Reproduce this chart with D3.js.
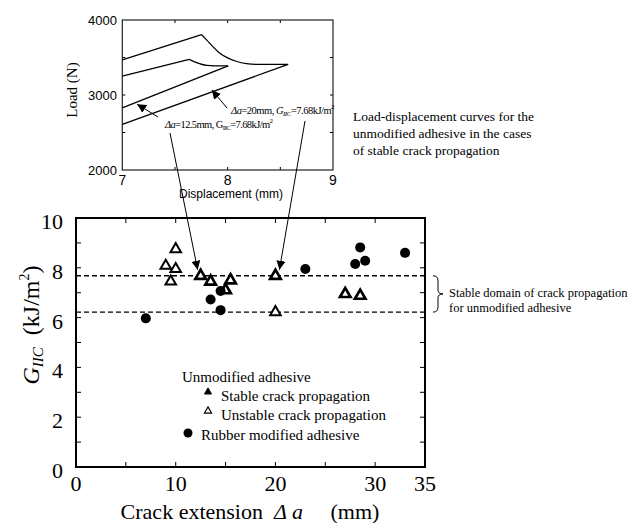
<!DOCTYPE html>
<html><head><meta charset="utf-8">
<script src="https://cdn.jsdelivr.net/npm/d3@7"></script>
<style>body{margin:0;background:#fff}svg{display:block}</style>
</head><body>
<svg id="c" width="629" height="523"></svg>
<script>
// ---- Main chart data ----
const stableX = [12.5, 13.5, 15.5, 15.0, 20.0, 27.0, 28.5];
const stableY = [7.68, 7.45, 7.5, 7.1, 7.68, 6.95, 6.88];
const unstableX = [10.0, 9.0, 10.0, 9.5, 20.0];
const unstableY = [8.75, 8.08, 7.95, 7.45, 6.22];
const rubberX = [7.0, 13.5, 14.5, 14.5, 23.0, 28.5, 28.0, 29.0, 33.0];
const rubberY = [5.97, 6.73, 7.07, 6.3, 7.95, 8.82, 8.15, 8.28, 8.6];
const domainBounds = [6.22, 7.68];
const xTicks = [0, 10, 20, 30, 35];
const yTicks = [0, 2, 4, 6, 8, 10];
// ---- Inset (load-displacement) data ----
const curveA_d = [7.0, 7.753, 7.80, 7.86, 7.926, 8.00, 8.08, 8.179, 8.274, 8.574, 7.0];
const curveA_L = [3467, 3804, 3735, 3645, 3556, 3495, 3450, 3418, 3409, 3409, 2609];
const curveB_d = [7.0, 7.635, 7.705, 7.80, 8.005, 7.0];
const curveB_L = [3253, 3476, 3431, 3396, 3387, 2827];
const insetXTicks = [7, 8, 9];
const insetYTicks = [2000, 3000, 4000];

const svg = d3.select("#c");
const serif = "'Liberation Serif','Times New Roman',serif";
const sans = "'Liberation Sans',Arial,sans-serif";

const defs = svg.append("defs");
defs.append("marker").attr("id","ah").attr("viewBox","0 0 10 10").attr("refX",10).attr("refY",5)
  .attr("markerWidth",9).attr("markerHeight",9).attr("markerUnits","userSpaceOnUse").attr("orient","auto")
  .append("path").attr("d","M0,0 L10,5 L0,10 Z").attr("fill","#000");

// ================= MAIN CHART =================
const x = d3.scaleLinear([0, 35], [76, 425]);
const y = d3.scaleLinear([0, 10], [467, 218]);
const g = svg.append("g");

const tk = 5;
d3.range(1, 10).forEach(v => {
  g.append("line").attr("x1", x(0)).attr("x2", x(0) + tk).attr("y1", y(v)).attr("y2", y(v)).attr("stroke","#000").attr("stroke-width",1);
  g.append("line").attr("x1", x(35)).attr("x2", x(35) - tk).attr("y1", y(v)).attr("y2", y(v)).attr("stroke","#000").attr("stroke-width",1);
});
d3.range(5, 35, 5).forEach(v => {
  g.append("line").attr("x1", x(v)).attr("x2", x(v)).attr("y1", y(0)).attr("y2", y(0) - tk).attr("stroke","#000").attr("stroke-width",1);
  g.append("line").attr("x1", x(v)).attr("x2", x(v)).attr("y1", y(10)).attr("y2", y(10) + tk).attr("stroke","#000").attr("stroke-width",1);
});
g.append("rect").attr("x", x(0)).attr("y", y(10)).attr("width", x(35) - x(0)).attr("height", y(0) - y(10))
  .attr("fill","none").attr("stroke","#000").attr("stroke-width",2);

xTicks.forEach(v => {
  g.append("text").attr("x", x(v)).attr("y", 491).attr("text-anchor","middle")
    .attr("font-family", serif).attr("font-size", 22).text(v);
});
yTicks.forEach(v => {
  g.append("text").attr("x", 63).attr("y", y(v) + 11).attr("text-anchor","end")
    .attr("font-family", serif).attr("font-size", 22).text(v);
});

const xt = g.append("text").attr("x", 250).attr("y", 519).attr("text-anchor","middle")
  .attr("font-family", serif).attr("font-size", 22).attr("xml:space","preserve");
xt.append("tspan").text("Crack extension  ");
xt.append("tspan").attr("font-style","italic").text("Δ a");
xt.append("tspan").text("     (mm)");

const yt = g.append("text").attr("transform","translate(39,325) rotate(-90)").attr("text-anchor","middle")
  .attr("font-family", serif).attr("font-size", 24).attr("xml:space","preserve");
yt.append("tspan").attr("font-style","italic").text("G");
yt.append("tspan").attr("font-style","italic").attr("font-size",15).attr("dy",4).text("IIC");
yt.append("tspan").attr("dy",-4).text("  (kJ/m");
yt.append("tspan").attr("font-size",14).attr("dy",-10).text("2");
yt.append("tspan").attr("dy",10).text(")");

domainBounds.forEach(v => {
  g.append("line").attr("x1", x(0)).attr("x2", x(35)).attr("y1", y(v)).attr("y2", y(v))
    .attr("stroke","#000").attr("stroke-width",1.3).attr("stroke-dasharray","5,3");
});

const tri = d3.symbol().type(d3.symbolTriangle).size(48);
unstableX.forEach((v, i) => {
  g.append("path").attr("d", tri()).attr("transform", `translate(${x(v)},${y(unstableY[i])})`)
    .attr("fill","#fff").attr("stroke","#000").attr("stroke-width",2);
});
stableX.forEach((v, i) => {
  g.append("path").attr("d", tri()).attr("transform", `translate(${x(v)},${y(stableY[i])})`)
    .attr("fill","#fff").attr("stroke","#000").attr("stroke-width",2.7);
});
rubberX.forEach((v, i) => {
  g.append("circle").attr("cx", x(v)).attr("cy", y(rubberY[i])).attr("r", 5).attr("fill","#000");
});

const lg = g.append("g").attr("font-family", serif).attr("font-size", 15);
lg.append("text").attr("x", 182).attr("y", 382).text("Unmodified adhesive");
const ltri = d3.symbol().type(d3.symbolTriangle).size(22);
lg.append("path").attr("d", ltri()).attr("transform","translate(208,392)").attr("fill","#000").attr("stroke","#000").attr("stroke-width",1);
lg.append("text").attr("x", 221).attr("y", 401).text("Stable crack propagation");
lg.append("path").attr("d", ltri()).attr("transform","translate(208,411)").attr("fill","#fff").attr("stroke","#000").attr("stroke-width",1.2);
lg.append("text").attr("x", 221).attr("y", 420).text("Unstable crack propagation");
lg.append("circle").attr("cx", 188).attr("cy", 433).attr("r", 4.5).attr("fill","#000");
lg.append("text").attr("x", 201).attr("y", 440).text("Rubber modified adhesive");

const yb1 = y(domainBounds[1]), yb0 = y(domainBounds[0]), ym = (yb0 + yb1) / 2;
g.append("path").attr("d",
  `M433,${yb1} Q438,${yb1} 438,${yb1+5} L438,${ym-4} Q438,${ym} 443,${ym} Q438,${ym} 438,${ym+4} L438,${yb0-5} Q438,${yb0} 433,${yb0}`)
  .attr("fill","none").attr("stroke","#000").attr("stroke-width",1);
g.append("text").attr("x", 449).attr("y", 297).attr("font-family", serif).attr("font-size", 12.5).text("Stable domain of crack propagation");
g.append("text").attr("x", 449).attr("y", 312).attr("font-family", serif).attr("font-size", 12.5).text("for unmodified adhesive");

["Load-displacement curves for the", "unmodified adhesive in the cases", "of stable crack propagation"].forEach((t, i) => {
  svg.append("text").attr("x", 353).attr("y", 121 + i * 17).attr("font-family", serif).attr("font-size", 13.5).text(t);
});

// ================= INSET =================
const ix = d3.scaleLinear([7, 9], [122.3, 333]);
const iy = d3.scaleLinear([2000, 4000], [170, 20]);
const ig = svg.append("g");
[7.5, 8, 8.5].forEach(v => {
  ig.append("line").attr("x1", ix(v)).attr("x2", ix(v)).attr("y1", iy(2000)).attr("y2", iy(2000) - 3).attr("stroke","#000");
  ig.append("line").attr("x1", ix(v)).attr("x2", ix(v)).attr("y1", iy(4000)).attr("y2", iy(4000) + 3).attr("stroke","#000");
});
[2500, 3000, 3500].forEach(v => {
  ig.append("line").attr("x1", ix(7)).attr("x2", ix(7) + 3).attr("y1", iy(v)).attr("y2", iy(v)).attr("stroke","#000");
  ig.append("line").attr("x1", ix(9)).attr("x2", ix(9) - 3).attr("y1", iy(v)).attr("y2", iy(v)).attr("stroke","#000");
});
ig.append("rect").attr("x", ix(7)).attr("y", iy(4000)).attr("width", ix(9) - ix(7)).attr("height", iy(2000) - iy(4000))
  .attr("fill","none").attr("stroke","#222").attr("stroke-width",1.2);

insetXTicks.forEach(v => {
  ig.append("text").attr("x", ix(v)).attr("y", 185).attr("text-anchor","middle").attr("font-family", sans).attr("font-size", 14).text(v);
});
insetYTicks.forEach(v => {
  ig.append("text").attr("x", 117).attr("y", iy(v) + 5).attr("text-anchor","end").attr("font-family", sans).attr("font-size", 13).text(v);
});
ig.append("text").attr("x", 231).attr("y", 198).attr("text-anchor","middle").attr("font-family", sans).attr("font-size", 12).text("Displacement (mm)");
ig.append("text").attr("transform","translate(77,90) rotate(-90)").attr("text-anchor","middle").attr("font-family", serif).attr("font-size", 15).text("Load (N)");

const lineL = d3.line();
const lineS = d3.line().curve(d3.curveMonotoneX);
function drawCurve(ds, Ls, nCurve) {
  const pts = ds.map((d, i) => [ix(d), iy(Ls[i])]);
  const first = pts.slice(0, nCurve);
  ig.append("path").attr("d", lineL(first.slice(0, 2))).attr("fill","none").attr("stroke","#000").attr("stroke-width",1.3);
  ig.append("path").attr("d", lineS(first.slice(1))).attr("fill","none").attr("stroke","#000").attr("stroke-width",1.3);
  ig.append("path").attr("d", lineL(pts.slice(nCurve - 1))).attr("fill","none").attr("stroke","#000").attr("stroke-width",1.3);
}
drawCurve(curveA_d, curveA_L, 10);
drawCurve(curveB_d, curveB_L, 5);

const la = ig.append("text").attr("x", 231).attr("y", 114).attr("font-family", serif).attr("font-size", 10.5).attr("letter-spacing", -0.5);
la.append("tspan").attr("font-style","italic").text("Δa");
la.append("tspan").text("=20mm, ");
la.append("tspan").attr("font-style","italic").text("G");
la.append("tspan").attr("font-style","italic").attr("font-size",7).attr("dy",2).text("IIC");
la.append("tspan").attr("dy",-2).text("=7.68kJ/m");
la.append("tspan").attr("font-size",7).attr("dy",-5).text("2");

const lb = ig.append("text").attr("x", 165).attr("y", 128).attr("font-family", serif).attr("font-size", 10.5).attr("letter-spacing", -0.6);
lb.append("tspan").attr("font-style","italic").text("Δa");
lb.append("tspan").text("=12.5mm, G");
lb.append("tspan").attr("font-size",7).attr("dy",2).text("IIC");
lb.append("tspan").attr("dy",-2).text("=7.68kJ/m");
lb.append("tspan").attr("font-size",7).attr("dy",-5).text("2");

ig.append("line").attr("x1", 227).attr("y1", 108).attr("x2", ix(7.85)).attr("y2", iy(3068))
  .attr("stroke","#000").attr("stroke-width",1).attr("marker-end","url(#ah)");
ig.append("line").attr("x1", 158).attr("y1", 117).attr("x2", ix(7.14)).attr("y2", iy(2878))
  .attr("stroke","#000").attr("stroke-width",1).attr("marker-end","url(#ah)");

svg.append("line").attr("x1", 170).attr("y1", 133).attr("x2", x(12.5) - 3).attr("y2", y(stableY[0]) - 6)
  .attr("stroke","#000").attr("stroke-width",1).attr("marker-end","url(#ah)");
svg.append("line").attr("x1", 305).attr("y1", 121).attr("x2", x(20.0) + 4).attr("y2", y(stableY[4]) - 6)
  .attr("stroke","#000").attr("stroke-width",1).attr("marker-end","url(#ah)");
</script>
</body></html>
